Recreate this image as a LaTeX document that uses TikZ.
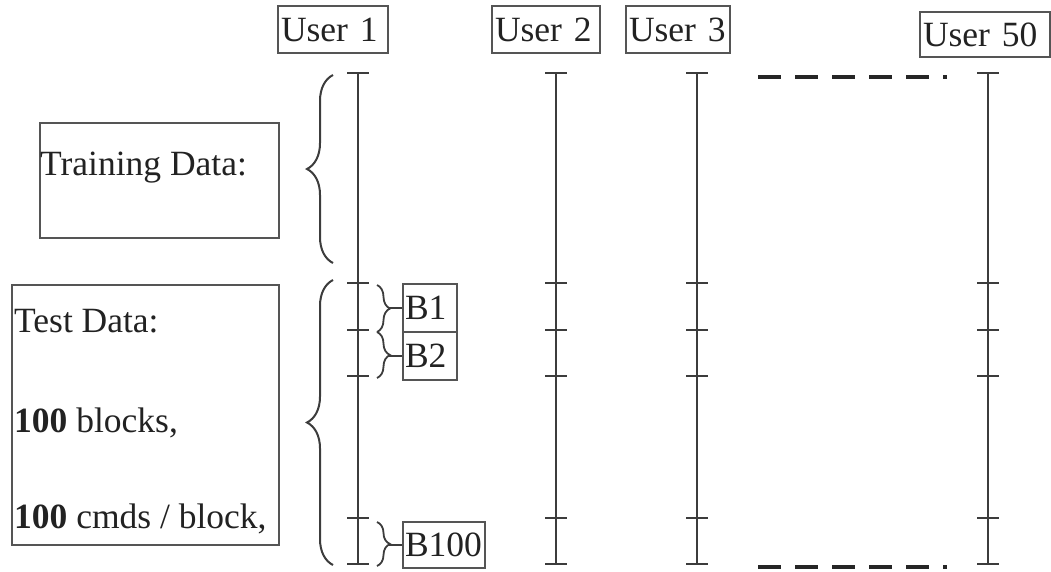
\documentclass[tikz,border=0pt]{standalone}
\usepackage{fontspec}
\setmainfont{Liberation Serif}
\usetikzlibrary{decorations.pathreplacing}
\definecolor{ink}{HTML}{222222}
\definecolor{linegray}{HTML}{3C3C3C}
\definecolor{boxgray}{HTML}{555555}
\begin{document}
\begin{tikzpicture}[x=1pt,y=-1pt,
  every node/.style={text=ink,font=\fontsize{35.5}{42}\selectfont},
  userbox/.style={draw=boxgray,line width=2.2pt,inner xsep=3pt,inner ysep=0pt,align=left,minimum height=#1},
  userbox/.default=47pt,
  databox/.style={draw=boxgray,line width=2.2pt,inner sep=0pt},
  label/.style={anchor=base west,inner sep=0pt},
  blockbox/.style={draw=boxgray,line width=1.8pt,inner xsep=2pt,inner ysep=0pt,align=left},
  timeline/.style={draw=linegray,line width=2.2pt},
  bigbrace/.style={draw=linegray,line width=2pt,decorate,decoration={brace,amplitude=26pt}},
  smallbrace/.style={draw=linegray,line width=1.8pt,decorate,decoration={brace,amplitude=13pt}},
  ellipsis/.style={draw=black!85,line width=4pt,dash pattern=on 23pt off 14pt}
]
\useasboundingbox (0,0) rectangle (1051,571);

% user headers
\node[userbox,text width=104pt] (u1) at (333,29.5) {User 1};
\node[userbox,text width=102pt] (u2) at (546,29.5) {User 2};
\node[userbox,text width=98pt] (u3) at (678,29.5) {User 3};
\node[userbox=45pt,text width=124pt] (u50) at (985,34.5) {User 50};

% timelines with ticks
\foreach \n/\x in {1/358,2/556,3/697,50/988} {
  \coordinate (top\n) at (\x,73);
  \coordinate (bot\n) at (\x,564);
  \draw[timeline] (top\n) -- (bot\n);
  \foreach \y in {73,283,330,376,518,564}
    \draw[timeline] (\x-11,\y) -- (\x+11,\y);
}

% ellipsis between User 3 and User 50
\coordinate (dotsTopA) at (758,77);
\coordinate (dotsTopB) at (947,77);
\coordinate (dotsBotA) at (758,567);
\coordinate (dotsBotB) at (947,567);
\draw[ellipsis] (dotsTopA) -- (dotsTopB);
\draw[ellipsis] (dotsBotA) -- (dotsBotB);

% data boxes
\node[databox,minimum width=239pt,minimum height=115pt] (train) at (159.5,180.5) {};
\node[label] (trainTxt) at (40,175) {Training Data:};

\node[databox,minimum width=267pt,minimum height=260pt] (test) at (145.5,415) {};
\node[label] (testTxt1) at (14,332) {Test Data:};
\node[label] (testTxt2) at (14,432) {\textbf{100} blocks,};
\node[label] (testTxt3) at (14,528) {\textbf{100} cmds / block,};

% big braces
\coordinate (trBraceA) at (333,263);
\coordinate (trBraceB) at (333,75);
\coordinate (teBraceA) at (333,565);
\coordinate (teBraceB) at (333,280);
\draw[bigbrace] (trBraceA) -- (trBraceB);
\draw[bigbrace] (teBraceA) -- (teBraceB);

% block boxes
\node[blockbox,text width=50pt,minimum height=48pt] (B1) at (430,308) {B1};
\node[blockbox,text width=50pt,minimum height=48pt] (B2) at (430,356) {B2};
\node[blockbox,text width=78pt,minimum height=46pt] (B100) at (444,545) {B100};

% small braces
\coordinate (b1a) at (377,285);  \coordinate (b1b) at (377,332);
\coordinate (b2a) at (377,332);  \coordinate (b2b) at (377,378);
\coordinate (b3a) at (377,522);  \coordinate (b3b) at (377,566);
\draw[smallbrace] (b1a) -- (b1b);
\draw[smallbrace] (b2a) -- (b2b);
\draw[smallbrace] (b3a) -- (b3b);
\draw[timeline,line width=1.8pt] (B1.west) -- ++(-13,0);
\draw[timeline,line width=1.8pt] (B2.west) -- ++(-13,0);
\draw[timeline,line width=1.8pt] (B100.west) -- ++(-13,0);
\end{tikzpicture}
\end{document}
